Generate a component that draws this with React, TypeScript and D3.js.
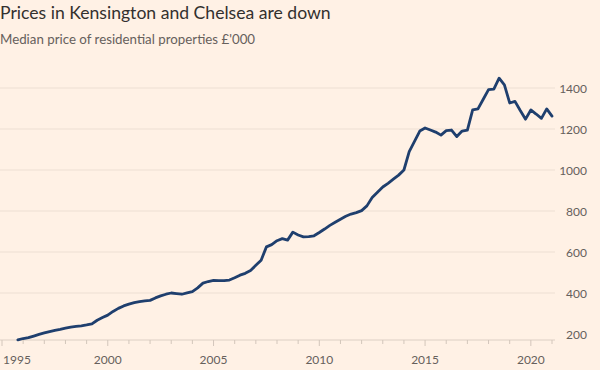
import React from "react";
import * as d3 from "d3";

const startYear = 1995.75;
const quarterValues: number[] = [
  171, 178, 182, 190, 198, 205, 212, 218, 223, 229, 234, 237, 240, 244, 249, 267,
  280, 292, 310, 325, 337, 346, 353, 358, 362, 364, 376, 386, 394, 400, 397, 394,
  401, 407, 425, 448, 456, 462, 460, 460, 463, 474, 487, 496, 510, 535, 560, 625,
  636, 655, 665, 658, 697, 683, 674, 675, 679, 695, 712, 730, 745, 760, 774, 785,
  792, 802, 825, 866, 892, 917, 935, 955, 975, 1000, 1090, 1140, 1190, 1205, 1195, 1185,
  1170, 1192, 1195, 1163, 1190, 1195, 1293, 1298, 1345, 1392, 1395, 1448, 1415, 1327, 1335, 1290,
  1248, 1293, 1273, 1252, 1298, 1263,
];
const data = quarterValues.map((v, i) => ({ t: startYear + i * 0.25, v }));

const yTicks = [200, 400, 600, 800, 1000, 1200, 1400];
const xLabels = [1995, 2000, 2005, 2010, 2015, 2020];
const xMinorTicks = d3.range(1995, 2022);

const title = "Prices in Kensington and Chelsea are down";
const subtitle = "Median price of residential properties £'000";

const W = 600;
const H = 370;

export default function App() {
  const x = d3.scaleLinear().domain([1995, 2021]).range([2, 552]);
  const y = d3.scaleLinear().domain([200, 1400]).range([334, 88]);
  const baseY = 340;
  const line = d3
    .line<{ t: number; v: number }>()
    .x((d) => x(d.t))
    .y((d) => y(d.v));
  const font = "Lato, 'Noto Sans', sans-serif";
  return (
    <svg
      width={W}
      height={H}
      style={{ position: "absolute", left: 0, top: 0, display: "block" }}
      fontFamily={font}
    >
      <rect x={0} y={0} width={W} height={H} fill="#fff1e5" />
      <text x={0} y={19} fontSize={17.6} fill="#33302e">
        {title}
      </text>
      <text x={0} y={44} fontSize={13.3} fill="#66605c">
        {subtitle}
      </text>
      {yTicks.slice(1).map((t) => (
        <line key={"g" + t} x1={0} x2={555} y1={y(t)} y2={y(t)} stroke="#eddfd3" strokeWidth={1} />
      ))}
      {yTicks.map((t) => (
        <text key={"yl" + t} x={587} y={y(t) + 2} fontSize={12} fill="#66605c" textAnchor="end" dominantBaseline="middle">
          {t}
        </text>
      ))}
      <line x1={0} x2={555} y1={baseY} y2={baseY} stroke="#dccfc4" strokeWidth={1} />
      {xMinorTicks.map((t) => (
        <line
          key={"xt" + t}
          x1={x(t)}
          x2={x(t)}
          y1={baseY}
          y2={baseY + (t % 5 === 0 ? 6 : 4)}
          stroke="#d3c6bb"
          strokeWidth={1}
        />
      ))}
      {xLabels.map((t, i) => (
        <text
          key={"xl" + t}
          x={i === 0 ? 3 : x(t)}
          y={364}
          fontSize={12}
          fill="#66605c"
          textAnchor={i === 0 ? "start" : "middle"}
        >
          {t}
        </text>
      ))}
      <path
        d={line(data) || ""}
        fill="none"
        stroke="#1f3f6e"
        strokeWidth={2.8}
        strokeLinejoin="round"
        strokeLinecap="round"
      />
    </svg>
  );
}
